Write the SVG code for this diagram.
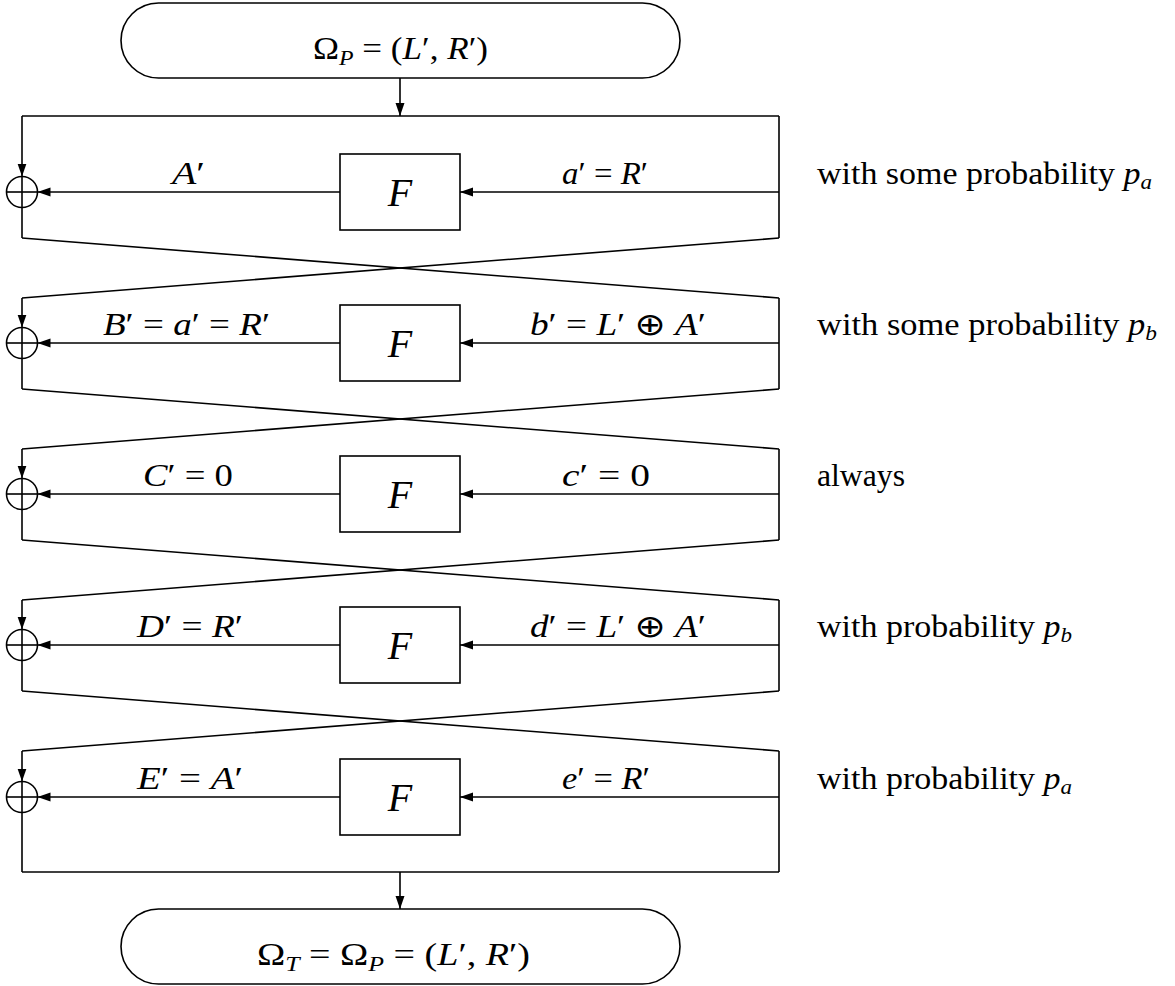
<svg xmlns="http://www.w3.org/2000/svg" width="1175" height="986" viewBox="0 0 1175 986">
<defs>
<marker id="ah" markerUnits="userSpaceOnUse" markerWidth="14" markerHeight="10" refX="13" refY="4.5" orient="auto">
<path d="M0,0 L13,4.5 L0,9 z" fill="#000"/>
</marker>
<style>
.ln{stroke:#000;stroke-width:1.6;fill:none}
.ar{stroke:#000;stroke-width:1.6;fill:none;marker-end:url(#ah)}
.bx{stroke:#000;stroke-width:1.6;fill:#fff}
.t{font-family:"Liberation Serif","DejaVu Serif",serif;font-size:31px;fill:#000}
.i{font-style:italic}
.f{font-family:"Liberation Serif","DejaVu Serif",serif;font-size:40px;font-style:italic;fill:#000;text-anchor:middle}
.m{text-anchor:middle}
.o{font-weight:normal;font-family:"DejaVu Sans",sans-serif}
</style>
</defs>
<rect width="1175" height="986" fill="#fff"/>

<g id="start">
<rect class="bx" x="121" y="3" width="559" height="75" rx="37.5"/>
<text class="t m" x="400.5" y="59" textLength="175" lengthAdjust="spacingAndGlyphs">Ω<tspan class="i" font-size="21" dy="6">P</tspan><tspan dy="-6"> = (</tspan><tspan class="i">L</tspan>′, <tspan class="i">R</tspan>′)</text>
</g>

<g id="connectors">
<line class="ar" x1="400" y1="78" x2="400" y2="116"/>
<line class="ln" x1="22" y1="116" x2="779" y2="116"/>
<line class="ar" x1="22" y1="116" x2="22" y2="176.5"/>
<line class="ln" x1="779" y1="116" x2="779" y2="238"/>
<line class="ar" x1="779" y1="192" x2="460" y2="192"/>
<line class="ar" x1="340" y1="192" x2="37.5" y2="192"/>
<line class="ln" x1="22" y1="207.5" x2="22" y2="238"/>
<line class="ln" x1="22" y1="238" x2="779" y2="298"/>
<line class="ln" x1="779" y1="238" x2="22" y2="298"/>

<line class="ar" x1="22" y1="298" x2="22" y2="327.5"/>
<line class="ln" x1="779" y1="298" x2="779" y2="389"/>
<line class="ar" x1="779" y1="343" x2="460" y2="343"/>
<line class="ar" x1="340" y1="343" x2="37.5" y2="343"/>
<line class="ln" x1="22" y1="358.5" x2="22" y2="389"/>
<line class="ln" x1="22" y1="389" x2="779" y2="449"/>
<line class="ln" x1="779" y1="389" x2="22" y2="449"/>

<line class="ar" x1="22" y1="449" x2="22" y2="478.5"/>
<line class="ln" x1="779" y1="449" x2="779" y2="540"/>
<line class="ar" x1="779" y1="494" x2="460" y2="494"/>
<line class="ar" x1="340" y1="494" x2="37.5" y2="494"/>
<line class="ln" x1="22" y1="509.5" x2="22" y2="540"/>
<line class="ln" x1="22" y1="540" x2="779" y2="600"/>
<line class="ln" x1="779" y1="540" x2="22" y2="600"/>

<line class="ar" x1="22" y1="600" x2="22" y2="629.5"/>
<line class="ln" x1="779" y1="600" x2="779" y2="691"/>
<line class="ar" x1="779" y1="645" x2="460" y2="645"/>
<line class="ar" x1="340" y1="645" x2="37.5" y2="645"/>
<line class="ln" x1="22" y1="660.5" x2="22" y2="691"/>
<line class="ln" x1="22" y1="691" x2="779" y2="751"/>
<line class="ln" x1="779" y1="691" x2="22" y2="751"/>

<line class="ar" x1="22" y1="751" x2="22" y2="781.5"/>
<line class="ln" x1="779" y1="751" x2="779" y2="872"/>
<line class="ar" x1="779" y1="797" x2="460" y2="797"/>
<line class="ar" x1="340" y1="797" x2="37.5" y2="797"/>
<line class="ln" x1="22" y1="812.5" x2="22" y2="872"/>
<line class="ln" x1="22" y1="872" x2="779" y2="872"/>
<line class="ar" x1="400" y1="872" x2="400" y2="909"/>
</g>

<g id="xor1"><circle class="ln" cx="22" cy="192" r="15.5"/><line class="ln" x1="6.5" y1="192" x2="37.5" y2="192"/><line class="ln" x1="22" y1="176.5" x2="22" y2="207.5"/></g>
<g id="xor2"><circle class="ln" cx="22" cy="343" r="15.5"/><line class="ln" x1="6.5" y1="343" x2="37.5" y2="343"/><line class="ln" x1="22" y1="327.5" x2="22" y2="358.5"/></g>
<g id="xor3"><circle class="ln" cx="22" cy="494" r="15.5"/><line class="ln" x1="6.5" y1="494" x2="37.5" y2="494"/><line class="ln" x1="22" y1="478.5" x2="22" y2="509.5"/></g>
<g id="xor4"><circle class="ln" cx="22" cy="645" r="15.5"/><line class="ln" x1="6.5" y1="645" x2="37.5" y2="645"/><line class="ln" x1="22" y1="629.5" x2="22" y2="660.5"/></g>
<g id="xor5"><circle class="ln" cx="22" cy="797" r="15.5"/><line class="ln" x1="6.5" y1="797" x2="37.5" y2="797"/><line class="ln" x1="22" y1="781.5" x2="22" y2="812.5"/></g>

<g id="F1"><rect class="bx" x="340" y="154" width="120" height="76"/><text class="f" x="400" y="206">F</text></g>
<g id="F2"><rect class="bx" x="340" y="305" width="120" height="76"/><text class="f" x="400" y="357">F</text></g>
<g id="F3"><rect class="bx" x="340" y="456" width="120" height="76"/><text class="f" x="400" y="508">F</text></g>
<g id="F4"><rect class="bx" x="340" y="607" width="120" height="76"/><text class="f" x="400" y="659">F</text></g>
<g id="F5"><rect class="bx" x="340" y="759" width="120" height="76"/><text class="f" x="400" y="811">F</text></g>

<g id="labels">
<text class="t" x="172" y="184" textLength="33" lengthAdjust="spacingAndGlyphs"><tspan class="i">A</tspan>′</text>
<text class="t" x="562" y="184" textLength="86" lengthAdjust="spacingAndGlyphs"><tspan class="i">a</tspan>′ = <tspan class="i">R</tspan>′</text>
<text class="t" x="103" y="335" textLength="167" lengthAdjust="spacingAndGlyphs"><tspan class="i">B</tspan>′ = <tspan class="i">a</tspan>′ = <tspan class="i">R</tspan>′</text>
<text class="t" x="530" y="335" textLength="176" lengthAdjust="spacingAndGlyphs"><tspan class="i">b</tspan>′ = <tspan class="i">L</tspan>′ <tspan class="o">⊕</tspan> <tspan class="i">A</tspan>′</text>
<text class="t" x="143" y="486" textLength="90" lengthAdjust="spacingAndGlyphs"><tspan class="i">C</tspan>′ = 0</text>
<text class="t" x="562" y="486" textLength="88" lengthAdjust="spacingAndGlyphs"><tspan class="i">c</tspan>′ = 0</text>
<text class="t" x="137" y="637" textLength="106" lengthAdjust="spacingAndGlyphs"><tspan class="i">D</tspan>′ = <tspan class="i">R</tspan>′</text>
<text class="t" x="530" y="637" textLength="176" lengthAdjust="spacingAndGlyphs"><tspan class="i">d</tspan>′ = <tspan class="i">L</tspan>′ <tspan class="o">⊕</tspan> <tspan class="i">A</tspan>′</text>
<text class="t" x="137" y="789" textLength="106" lengthAdjust="spacingAndGlyphs"><tspan class="i">E</tspan>′ = <tspan class="i">A</tspan>′</text>
<text class="t" x="562" y="789" textLength="88" lengthAdjust="spacingAndGlyphs"><tspan class="i">e</tspan>′ = <tspan class="i">R</tspan>′</text>

<text class="t" x="817" y="184" textLength="335" lengthAdjust="spacingAndGlyphs">with some probability <tspan class="i">p</tspan><tspan class="i" font-size="21" dy="5">a</tspan></text>
<text class="t" x="817" y="335" textLength="340" lengthAdjust="spacingAndGlyphs">with some probability <tspan class="i">p</tspan><tspan class="i" font-size="21" dy="5">b</tspan></text>
<text class="t" x="817" y="486" textLength="88" lengthAdjust="spacingAndGlyphs">always</text>
<text class="t" x="817" y="637" textLength="255" lengthAdjust="spacingAndGlyphs">with probability <tspan class="i">p</tspan><tspan class="i" font-size="21" dy="5">b</tspan></text>
<text class="t" x="817" y="789" textLength="255" lengthAdjust="spacingAndGlyphs">with probability <tspan class="i">p</tspan><tspan class="i" font-size="21" dy="5">a</tspan></text>
</g>

<g id="end">
<rect class="bx" x="121" y="909" width="559" height="75" rx="37.5"/>
<text class="t m" x="393.5" y="965" textLength="273" lengthAdjust="spacingAndGlyphs">Ω<tspan class="i" font-size="21" dy="6">T</tspan><tspan dy="-6"> = Ω</tspan><tspan class="i" font-size="21" dy="6">P</tspan><tspan dy="-6"> = (</tspan><tspan class="i">L</tspan>′, <tspan class="i">R</tspan>′)</text>
</g>
</svg>
